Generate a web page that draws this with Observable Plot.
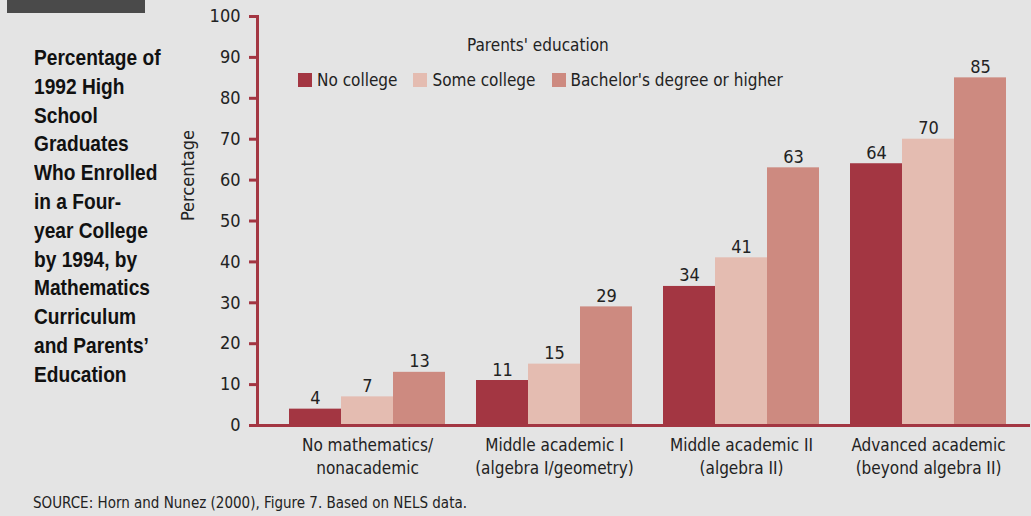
<!DOCTYPE html>
<html>
<head>
<meta charset="utf-8">
<script src="https://cdn.jsdelivr.net/npm/d3@7"></script>
<script src="https://cdn.jsdelivr.net/npm/@observablehq/plot@0.6"></script>
<style>
  html, body { margin: 0; padding: 0; }
  body { width: 1031px; height: 516px; overflow: hidden; background: #e4e4e4; position: relative;
         font-family: "DejaVu Sans Condensed", "Liberation Sans", sans-serif; color: #222; }
  #fig { position: absolute; left: 7px; top: 0; width: 138px; height: 13px; background: #4a4a4a; }
  #title { position: absolute; left: 34px; top: 44px; white-space: nowrap; font-family: "Liberation Sans", Arial, sans-serif;
           font-weight: bold; font-size: 22px; line-height: 28.8px; color: #111; transform: scaleX(0.87); transform-origin: left top; }
  #chart { position: absolute; left: 0; top: 0; }
  #legend-title { position: absolute; left: 467px; top: 35px; font-size: 17px; }
  #legend { position: absolute; left: 298px; top: 70px; display: flex; font-size: 17px; }
  .item { display: flex; align-items: center; margin-right: 16px; }
  .sw { width: 14px; height: 14px; margin-right: 5px; }
  #source { position: absolute; left: 33px; top: 494px; font-size: 15px; }
</style>
</head>
<body>
<div id="fig"></div>
<div id="title">Percentage of<br>1992 High<br>School<br>Graduates<br>Who Enrolled<br>in a Four-<br>year College<br>by 1994, by<br>Mathematics<br>Curriculum<br>and Parents’<br>Education</div>
<div id="chart"></div>
<div id="legend-title">Parents' education</div>
<div id="legend"></div>
<div id="source">SOURCE: Horn and Nunez (2000), Figure 7. Based on NELS data.</div>
<script>
const groups = ["No mathematics/\nnonacademic", "Middle academic I\n(algebra I/geometry)", "Middle academic II\n(algebra II)", "Advanced academic\n(beyond algebra II)"];
const series = ["No college", "Some college", "Bachelor's degree or higher"];
const noCollege = [4, 11, 34, 64];
const someCollege = [7, 15, 41, 70];
const bachelors = [13, 29, 63, 85];
const colors = ["#a33642", "#e4bcb1", "#cd8a80"];
const yTicks = [0, 10, 20, 30, 40, 50, 60, 70, 80, 90, 100];

const values = [noCollege, someCollege, bachelors];
const data = groups.flatMap((g, i) => series.map((s, j) => ({group: g, series: s, idx: j, value: values[j][i]})));

const axisColor = "#a33642";
const barW = 52;

const marks = [];
series.forEach((s, j) => {
  const sub = data.filter(d => d.idx === j);
  marks.push(Plot.barY(sub, {x: "group", y: "value", fill: colors[j], insetLeft: j * barW, insetRight: (2 - j) * barW}));
  marks.push(Plot.text(sub, {x: "group", y: "value", text: d => String(d.value), dx: (j - 1) * barW, dy: -5, lineAnchor: "bottom", fill: "#222", fontSize: 18}));
});

const plot = Plot.plot({
  width: 1031,
  height: 480,
  marginLeft: 257,
  marginRight: 1,
  marginTop: 16,
  marginBottom: 55,
  style: {fontFamily: '"DejaVu Sans Condensed", sans-serif', fontSize: "18px", background: "transparent", color: "#222"},
  x: {domain: groups, paddingInner: 0.1658, paddingOuter: 0.1497, align: 0.571},
  y: {domain: [0, 100]},
  marks: [
    ...marks,
    Plot.axisY({ticks: yTicks, tickSize: 8, tickPadding: 9, stroke: axisColor, strokeWidth: 3, fill: "#222", fontSize: 18, label: null}),
    Plot.axisX({tickSize: 0, tickPadding: 9, fontSize: 17, lineHeight: 1.35, fill: "#222", label: null}),
    Plot.text(["Percentage"], {frameAnchor: "left", rotate: -90, dx: -69, fontSize: 18, fill: "#222"}),
    Plot.frame({anchor: "left", stroke: axisColor, strokeWidth: 3}),
    Plot.ruleY([0], {stroke: axisColor, strokeWidth: 3})
  ]
});
document.getElementById("chart").append(plot);

const legend = document.getElementById("legend");
series.forEach((s, j) => {
  const item = document.createElement("div");
  item.className = "item";
  const sw = document.createElement("div");
  sw.className = "sw";
  sw.style.background = colors[j];
  const t = document.createElement("span");
  t.textContent = s;
  item.append(sw, t);
  legend.append(item);
});
</script>
</body>
</html>
